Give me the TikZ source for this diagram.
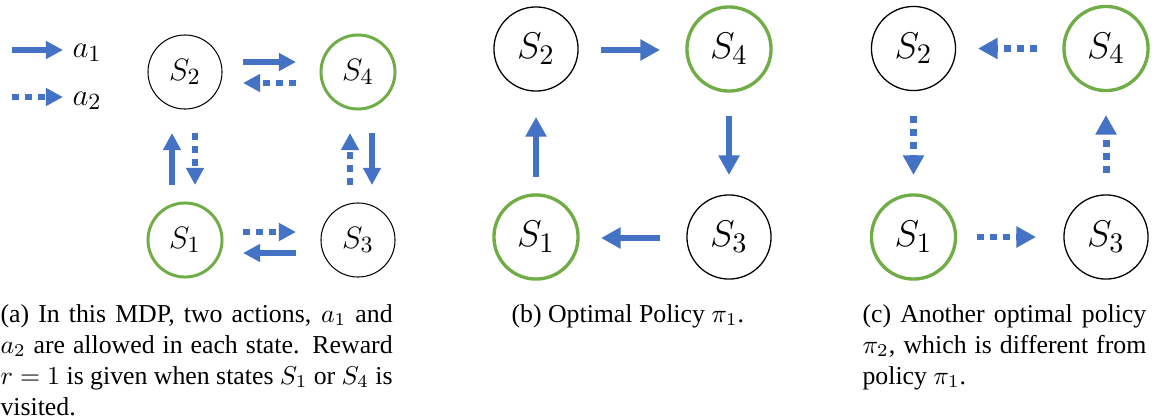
\documentclass[tikz,border=0pt]{standalone}
\usepackage{fontspec}
\setmainfont{Liberation Serif}
\usetikzlibrary{arrows.meta}
\definecolor{arrblue}{HTML}{4472C4}
\definecolor{stgreen}{HTML}{70AD47}
\begin{document}
\begin{tikzpicture}[x=0.3876pt,y=-0.3876pt,
  stA/.style={circle, draw=black, line width=0.4pt, minimum size=28.7pt, inner sep=0pt, font=\fontsize{12.8}{15}\selectfont},
  goalA/.style={stA, draw=stgreen, line width=1.15pt},
  stB/.style={circle, draw=black, line width=0.5pt, minimum size=32.6pt, inner sep=0pt, font=\fontsize{15.3}{18}\selectfont},
  goalB/.style={stB, draw=stgreen, line width=1.3pt},
  actA/.style={draw=arrblue, line width=2.3pt, -{Triangle[length=6.6pt,width=6.6pt]}},
  optA/.style={actA, dash pattern=on 2.55pt off 2.55pt},
  actB/.style={draw=arrblue, line width=2.7pt, -{Triangle[length=7.6pt,width=7.8pt]}},
  optB/.style={actB, dash pattern=on 2.7pt off 2.3pt},
  capt/.style={inner sep=0pt, anchor=base west, font=\fontsize{10}{12}\selectfont},
  leg/.style={inner sep=0pt, anchor=base west, font=\fontsize{12.8}{15}\selectfont},
]
\useasboundingbox (0,0) rectangle (1157,419);

% ---------- (a) ----------
\coordinate (l1s) at (12,50);
\coordinate (l1e) at (63,50);
\coordinate (l2s) at (12,97);
\coordinate (l2e) at (63,97);
\draw[actA] (l1s) -- (l1e);
\draw[optA] (l2s) -- (l2e);
\node[leg] (la1) at (72,57) {$a_1$};
\node[leg] (la2) at (72,105) {$a_2$};

\node[stA]   (aS2) at (185,72)  {$S_2$};
\node[goalA] (aS4) at (358,72)  {$S_4$};
\node[goalA] (aS1) at (185,240) {$S_1$};
\node[stA]   (aS3) at (358,240) {$S_3$};

\draw[actA] ([shift={(58,-10)}]aS2.center) -- ([shift={(-62,-10)}]aS4.center);
\draw[optA] ([shift={(-62,11)}]aS4.center) -- ([shift={(58,11)}]aS2.center);
\draw[optA] ([shift={(58,-8)}]aS1.center) -- ([shift={(-62,-8)}]aS3.center);
\draw[actA] ([shift={(-62,13)}]aS3.center) -- ([shift={(58,13)}]aS1.center);
\draw[actA] ([shift={(-13,-55)}]aS1.center) -- ([shift={(-13,61)}]aS2.center);
\draw[optA] ([shift={(10,61)}]aS2.center) -- ([shift={(10,-55)}]aS1.center);
\draw[optA] ([shift={(-8,-55)}]aS3.center) -- ([shift={(-8,61)}]aS4.center);
\draw[actA] ([shift={(14,61)}]aS4.center) -- ([shift={(14,-55)}]aS3.center);

% ---------- (b) ----------
\node[stB]   (bS2) at (536,49)  {$S_2$};
\node[goalB] (bS4) at (729,49)  {$S_4$};
\node[goalB] (bS1) at (536,237) {$S_1$};
\node[stB]   (bS3) at (729,237) {$S_3$};

\draw[actB] ([shift={(65,1)}]bS2.center) -- ([shift={(-69,1)}]bS4.center);
\draw[actB] ([shift={(0,67)}]bS4.center) -- ([shift={(0,-62)}]bS3.center);
\draw[actB] ([shift={(-69,1)}]bS3.center) -- ([shift={(65,1)}]bS1.center);
\draw[actB] ([shift={(0,-60)}]bS1.center) -- ([shift={(0,68)}]bS2.center);

% ---------- (c) ----------
\node[stB]   (cS2) at (913.5,48.5) {$S_2$};
\node[goalB] (cS4) at (1106,48.5)  {$S_4$};
\node[goalB] (cS1) at (913.5,237)  {$S_1$};
\node[stB]   (cS3) at (1106,237)   {$S_3$};

\draw[optB] ([shift={(-69,0)}]cS4.center) -- ([shift={(64.5,0)}]cS2.center);
\draw[optB] ([shift={(0,67.5)}]cS2.center) -- ([shift={(0,-62)}]cS1.center);
\draw[optB] ([shift={(63.5,0)}]cS1.center) -- ([shift={(-70,0)}]cS3.center);
\draw[optB] ([shift={(0,-64)}]cS3.center) -- ([shift={(0,66.5)}]cS4.center);

% ---------- captions ----------
\node[capt] (ca1) at (0,322) {\hbox to 152pt{(a) In this MDP, two actions, $a_1$ and}};
\node[capt] (ca2) at (0,353) {\hbox to 152pt{$a_2$ are allowed in each state. Reward}};
\node[capt] (ca3) at (0,384) {\hbox to 152pt{$r=1$ is given when states $S_1$ or $S_4$ is}};
\node[capt] (ca4) at (0,415) {visited.};

\node[capt] (cb1) at (511,322) {(b) Optimal Policy $\pi_1$.};

\node[capt] (cc1) at (862,322) {\hbox to 110pt{(c) Another optimal policy}};
\node[capt] (cc2) at (862,353) {\hbox to 110pt{$\pi_2$, which is different from}};
\node[capt] (cc3) at (862,384) {policy $\pi_1$.};
\end{tikzpicture}
\end{document}
